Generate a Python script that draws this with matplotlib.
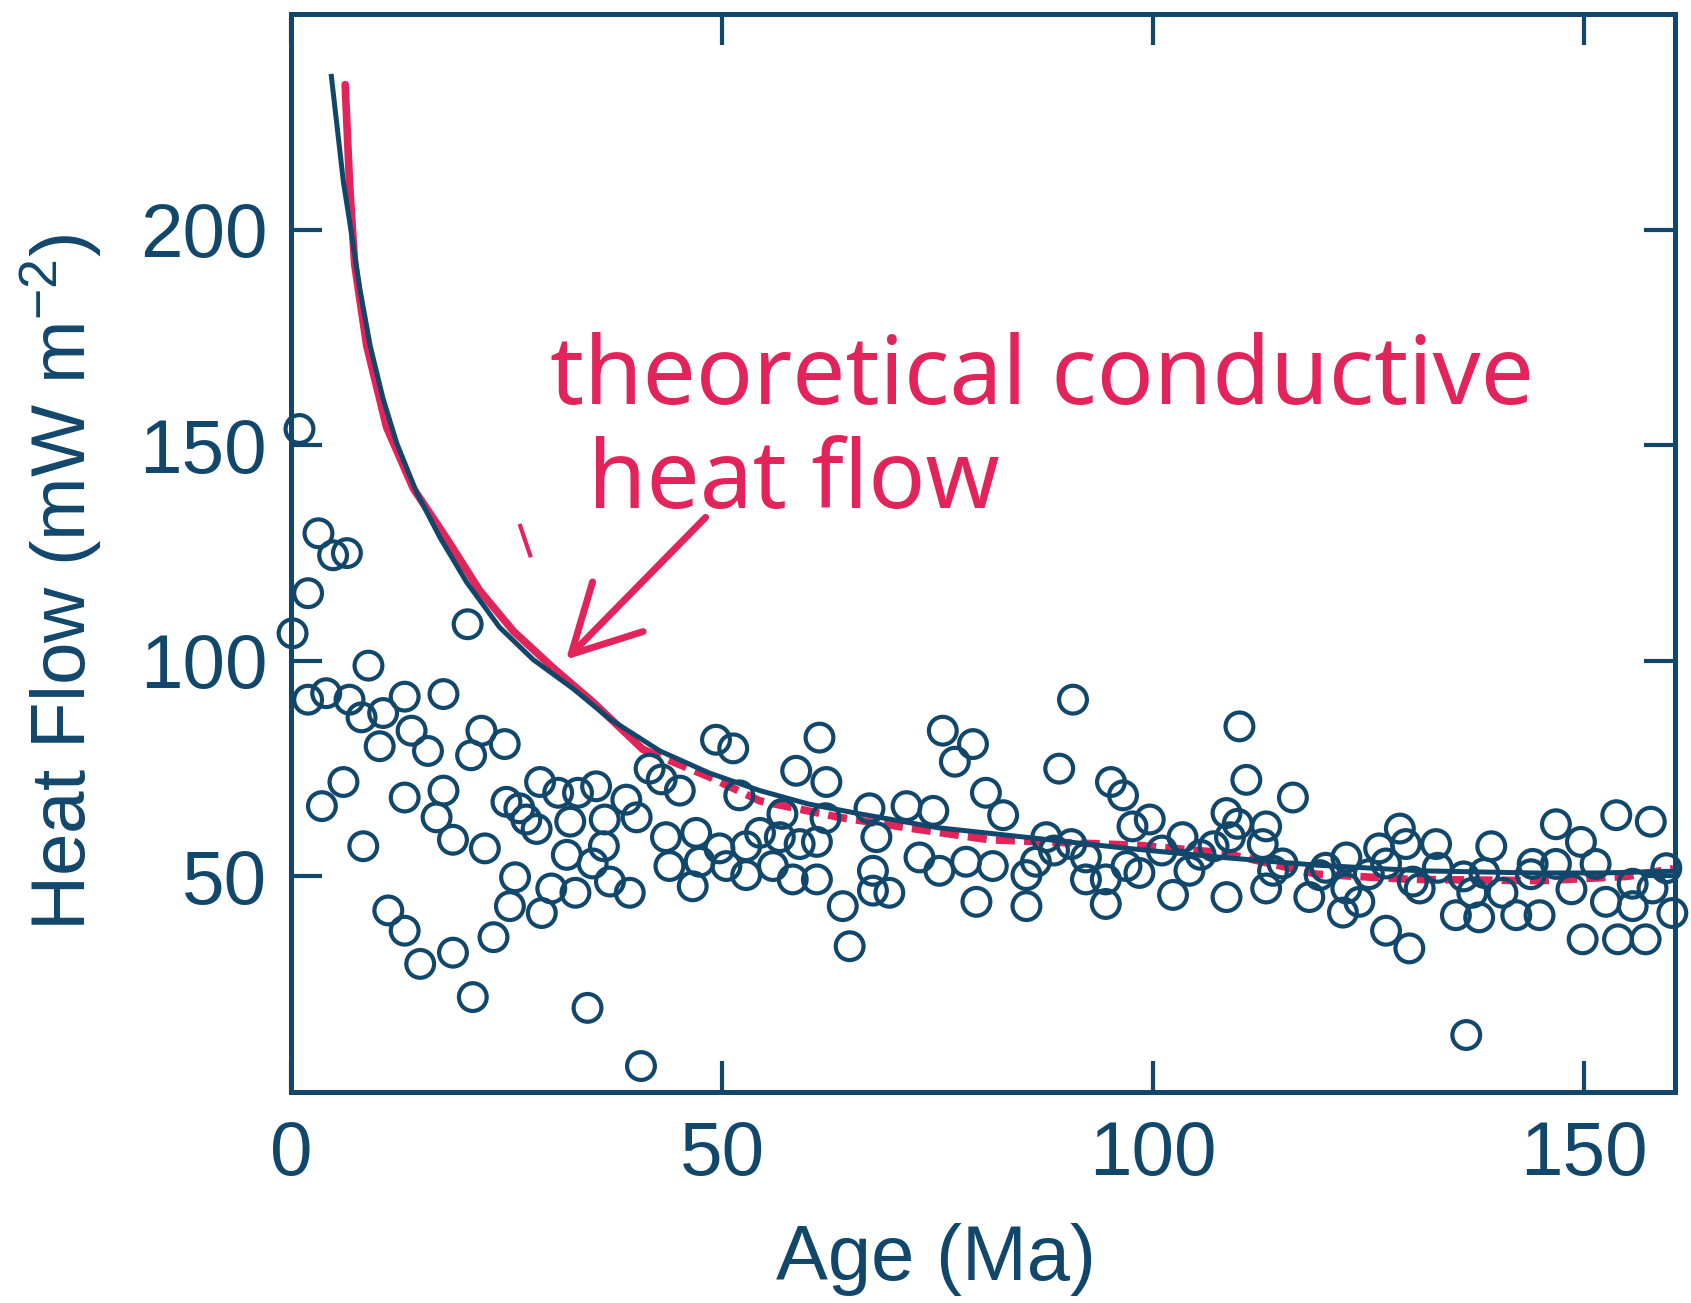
import matplotlib
matplotlib.use('Agg')
import matplotlib.pyplot as plt

plt.rcParams['font.family'] = ['Liberation Sans', 'DejaVu Sans']
plt.rcParams['mathtext.default'] = 'regular'

NAVY = '#12476c'
RED = '#e3245a'

age = [1.0, 3.2, 4.9, 6.5, 2.0, 0.2, 20.5, 9.0, 2.0, 4.1, 6.8, 8.2, 10.7, 13.2,
       17.7, 14.0, 10.3, 15.9, 22.1, 24.8, 20.9, 6.1, 3.6, 13.2, 17.7, 16.9,
       18.8, 8.4, 22.5, 25.0, 26.5, 28.9, 31.0, 27.3, 28.5, 32.4, 32.0, 26.0,
       30.2, 33.0, 29.1, 25.4, 23.5, 11.3, 13.2, 15.0, 18.8, 21.1, 34.4,
       49.3, 51.3, 61.3, 58.6, 62.1, 41.6, 43.0, 45.1, 33.3, 35.4, 38.9, 40.1,
       36.4, 37.0, 39.3, 52.0, 43.5, 47.0, 49.7, 52.8, 54.4, 56.7, 59.0, 61.0,
       43.9, 47.4, 50.5, 52.8, 55.9, 58.2, 61.0, 46.6, 64.0, 64.8, 40.6, 57.0,
       62.0, 36.3, 35.0,
       90.7, 75.6, 79.1, 77.0, 89.1, 95.1, 96.5, 80.6, 82.6, 67.1, 71.4, 74.5,
       67.9, 72.9, 75.2, 78.3, 81.4, 79.5, 67.5, 67.5, 69.4, 85.3, 85.3, 86.4,
       87.6, 92.2, 92.2, 94.5, 94.5, 96.9, 97.6, 88.5, 90.5,
       110.0, 110.8, 116.2, 99.6, 108.5, 109.8, 113.1, 112.7, 108.9, 103.4,
       98.4, 102.3, 104.2, 108.5, 113.1, 113.9, 118.1, 119.3, 122.4, 122.4,
       123.9, 122.0, 126.2, 128.6, 129.3, 127.0, 129.7, 130.1, 101.0, 105.5,
       107.0, 115.0, 120.0, 125.0, 127.0,
       132.8, 139.2, 146.7, 149.6, 153.7, 157.7, 144.0, 146.7, 151.3, 159.5,
       130.9, 135.1, 137.8, 137.0, 140.5, 142.1, 144.8, 152.5, 155.6, 157.9,
       160.2, 149.8, 153.9, 157.1, 136.3, 133.0, 136.0, 138.4, 143.8, 155.6,
       148.5]
heat_flow = [153.8, 129.6, 124.5, 125.0, 115.7, 106.4, 108.5, 98.9, 91.0, 92.5,
             91.0, 86.9, 87.9, 91.7, 92.3, 83.8, 80.2, 79.1, 83.8, 80.7, 78.1,
             71.9, 66.3, 68.3, 69.9, 63.7, 58.5, 57.0, 56.5, 67.3, 65.8, 71.9,
             69.4, 63.2, 61.0, 62.7, 55.0, 49.8, 47.2, 46.2, 41.5, 43.1, 35.9,
             42.1, 37.4, 29.7, 32.3, 22.0, 19.5,
             81.7, 79.7, 82.2, 74.5, 71.9, 75.0, 72.5, 69.9, 69.4, 70.9, 67.8,
             63.7, 63.2, 48.8, 46.2, 68.8, 59.1, 60.1, 56.5, 57.0, 60.1, 59.1,
             57.5, 58.0, 52.4, 53.4, 52.4, 50.3, 52.4, 49.3, 49.3, 47.7, 43.1,
             33.8, 6.0, 64.5, 63.5, 57.0, 53.0,
             91.0, 83.8, 80.7, 76.6, 75.0, 71.9, 68.8, 69.4, 64.2, 65.8, 66.3,
             65.2, 59.1, 54.4, 51.3, 53.4, 52.4, 44.1, 51.3, 46.7, 46.2, 50.3,
             43.1, 53.4, 59.1, 54.4, 49.3, 49.3, 43.6, 52.4, 61.6, 56.0, 57.5,
             84.8, 72.4, 68.3, 63.2, 64.7, 62.2, 61.6, 57.5, 59.1, 59.1, 50.8,
             45.7, 51.3, 45.2, 47.2, 51.3, 45.2, 50.3, 54.4, 47.2, 44.1, 41.6,
             56.5, 61.1, 57.5, 37.4, 33.3, 48.8, 56.0, 55.0, 57.0, 53.0, 52.0,
             50.5, 53.0,
             57.5, 57.0, 62.1, 58.0, 64.2, 62.7, 52.9, 52.9, 52.9, 51.9, 47.2,
             41.0, 40.5, 46.2, 46.2, 41.0, 41.0, 44.1, 43.1, 47.2, 41.5, 35.4,
             35.4, 35.4, 13.2, 52.0, 50.0, 50.8, 50.5, 48.3, 47.0]

# printed theoretical curve
curve_age = [4.7, 6.1, 7.0, 8.0, 9.2, 10.7, 12.3, 14.6, 17.3, 20.4, 24.2, 28.1,
             32.7, 37.0, 42.8, 48.5, 54.4, 60.0, 66.0, 75.0, 87.0, 97.0, 108.0,
             119.0, 131.0, 144.0, 152.0, 160.4]
curve_flow = [235.6, 211.0, 199.6, 186.3, 173.1, 160.8, 150.4, 139.0, 128.6,
              118.2, 107.8, 100.3, 93.6, 86.5, 79.1, 74.0, 69.9, 66.8, 64.5,
              61.3, 58.7, 56.5, 54.4, 52.6, 51.3, 50.8, 50.8, 51.2]

# hand-drawn red trace over the curve
pen_age = [6.3, 6.8, 7.4, 8.8, 11.1, 14.2, 18.0, 21.9, 25.8, 30.4, 35.0, 40.8,
           48.6, 54.4, 63.6, 71.4, 81.0, 98.4, 108.0, 119.0, 130.0, 145.0, 155.0,
           160.3]
pen_flow = [233.7, 211.0, 192.0, 173.1, 154.2, 140.0, 128.6, 116.3, 106.9, 98.4,
            90.5, 79.5, 73.0, 67.5, 63.7, 61.3, 58.5, 57.2, 55.5, 50.5, 49.3,
            49.0, 50.0, 51.8]
pen_solid = 12

fig = plt.figure(figsize=(16.91, 13.03), dpi=100)
ax = fig.add_axes([0.172, 0.162, 0.8185, 0.827])

ax.plot(pen_age[:pen_solid], pen_flow[:pen_solid], color=RED, lw=5.5,
        solid_capstyle='round', zorder=2)
ax.plot(pen_age[pen_solid - 1:], pen_flow[pen_solid - 1:], color=RED, lw=5.5,
        linestyle=(0, (2.5, 1.2)), zorder=2)
ax.plot(curve_age, curve_flow, color=NAVY, lw=3.6, zorder=3)

ax.scatter(age, heat_flow, s=400, facecolors='none', edgecolors=NAVY,
           linewidths=3, zorder=4, clip_on=False)

# handwritten note
ax.text(30, 159.5, 'theoretical conductive', color=RED, fontsize=68,
        family=['Noto Sans', 'DejaVu Sans'], ha='left', va='baseline')
ax.text(34.4, 135.5, 'heat flow', color=RED, fontsize=68,
        family=['Noto Sans', 'DejaVu Sans'], ha='left', va='baseline')
ax.annotate('', xy=(31.9, 100.3), xytext=(48.1, 133.3),
            arrowprops=dict(arrowstyle='->,head_length=1.6,head_width=0.85',
                            color=RED, lw=5, mutation_scale=30,
                            shrinkA=0, shrinkB=0))
ax.plot([26.6, 27.75], [131.3, 124.5], color=RED, lw=3)

ax.set_xlim(0, 160.5)
ax.set_ylim(0, 250)
ax.set_xticks([0, 50, 100, 150])
ax.set_yticks([50, 100, 150, 200])
ax.tick_params(direction='in', length=22, width=3, colors=NAVY,
               labelsize=55, top=True, right=True)
ax.tick_params(axis='x', pad=20)
ax.tick_params(axis='y', pad=17)
for side in ax.spines.values():
    side.set_color(NAVY)
    side.set_linewidth(3.6)

ax.set_xlabel('Age (Ma)', fontsize=56, color=NAVY)
ax.xaxis.set_label_coords(0.466, -0.122)
ax.set_ylabel('Heat Flow (mW m$^{-2}$)', fontsize=55, color=NAVY)
ax.yaxis.set_label_coords(-0.135, 0.473)

fig.savefig('out.png', dpi=100, facecolor='white')
